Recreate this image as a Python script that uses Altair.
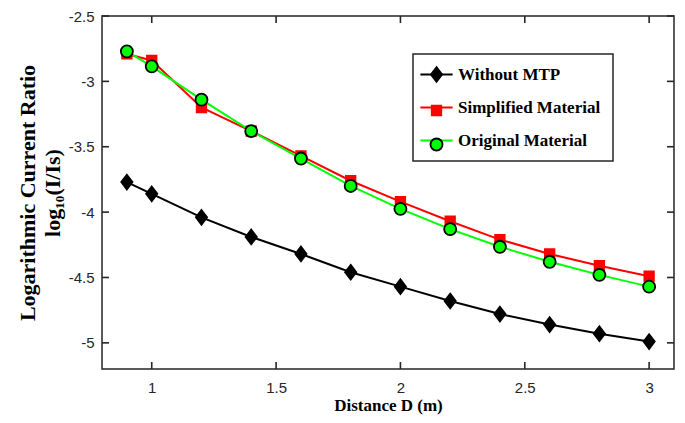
import altair as alt
import pandas as pd

# ---- data ----
D = [0.9, 1.0, 1.2, 1.4, 1.6, 1.8, 2.0, 2.2, 2.4, 2.6, 2.8, 3.0]
without_mtp = [-3.77, -3.86, -4.04, -4.19, -4.32, -4.46, -4.57, -4.68, -4.78, -4.86, -4.93, -4.99]
simplified = [-2.79, -2.84, -3.20, -3.38, -3.57, -3.76, -3.92, -4.07, -4.21, -4.32, -4.41, -4.49]
original = [-2.77, -2.885, -3.14, -3.38, -3.59, -3.80, -3.975, -4.13, -4.265, -4.38, -4.48, -4.57]

series_names = ["Without MTP", "Simplified Material", "Original Material"]
marker_keys = ["Without MTP ", "Simplified Material ", "Original Material "]
line_colors = ["#000000", "#ff0000", "#00ff00"]
marker_fill = ["#000000", "#ff0000", "#00ff00"]
marker_stroke = ["#000000", "#ff0000", "#000000"]
marker_paths = [
    "M0,-1.05L0.8,0L0,1.05L-0.8,0Z",
    "M-0.68,-0.68H0.68V0.68H-0.68Z",
    "M0.86,0A0.86,0.86 0 1,1 -0.86,0A0.86,0.86 0 1,1 0.86,0Z",
]
x_ticks = [1, 1.5, 2, 2.5, 3]
y_ticks = [-5, -4.5, -4, -3.5, -3, -2.5]

rows = []
for name, key, vals in zip(series_names, marker_keys, [without_mtp, simplified, original]):
    for d, v in zip(D, vals):
        rows.append({"D": d, "value": v, "series": name, "mk": key})
df = pd.DataFrame(rows)
xt = pd.DataFrame({"t": x_ticks})
yt = pd.DataFrame({"t": y_ticks})

W, H = 572, 353
AX = "#262626"
TL = 7  # inward tick length

x_scale = alt.Scale(domain=[0.8, 3.1], nice=False, zero=False)
y_scale = alt.Scale(domain=[-5.2, -2.5], nice=False, zero=False)

x_axis = alt.Axis(values=x_ticks, ticks=False, domain=False, grid=False,
                  labelExpr="datum.value + ''",
                  labelFont="Liberation Sans", labelFontSize=15, labelColor=AX,
                  labelPadding=11,
                  title="Distance D (m)", titleFont="Liberation Serif",
                  titleFontWeight="bold", titleFontSize=17, titleColor="#000000",
                  titlePadding=2)
y_axis = alt.Axis(values=y_ticks, ticks=False, domain=False, grid=False,
                  labelExpr="datum.value + ''",
                  labelFont="Liberation Sans", labelFontSize=15, labelColor=AX,
                  labelPadding=8,
                  title=["Logarithmic Current Ratio", "log\u2081\u2080(I/Is)"],
                  titleFont="Liberation Serif", titleFontWeight="bold",
                  titleFontSize=22, titleColor="#000000", titleLineHeight=25,
                  titleAngle=270, titleX=-63, titleY=H / 2,
                  titleAlign="center", titleBaseline="bottom")

legend_common = dict(orient="none", legendX=311, legendY=38, title=None,
                     symbolSize=196, padding=12, rowPadding=15, symbolOffset=3,
                     labelOffset=13, labelFont="Liberation Serif", labelFontWeight="bold",
                     labelFontSize=17, labelColor="#000000", labelLimit=300)
legend_lines = alt.Legend(symbolType="M-2.3,0H2.3", symbolStrokeWidth=2,
                          strokeColor=AX, **legend_common)
legend_marks = alt.Legend(symbolStrokeWidth=1.8, labelExpr="''", **legend_common)

color_enc = alt.Color("series:N", scale=alt.Scale(domain=series_names, range=line_colors),
                      legend=legend_lines)

lines = alt.Chart(df).mark_line(strokeWidth=2).encode(
    x=alt.X("D:Q", scale=x_scale, axis=x_axis),
    y=alt.Y("value:Q", scale=y_scale, axis=y_axis),
    color=color_enc,
)
points = alt.Chart(df).mark_point(filled=True, size=196, strokeWidth=1.8, opacity=1).encode(
    x=alt.X("D:Q", scale=x_scale),
    y=alt.Y("value:Q", scale=y_scale),
    fill=alt.Fill("mk:N", scale=alt.Scale(domain=marker_keys, range=marker_fill), legend=legend_marks),
    stroke=alt.Stroke("mk:N", scale=alt.Scale(domain=marker_keys, range=marker_stroke), legend=legend_marks),
    shape=alt.Shape("mk:N", scale=alt.Scale(domain=marker_keys, range=marker_paths), legend=legend_marks),
)

# inward tick marks on all four sides (positions through the scales)
tick_style = dict(stroke=AX, strokeWidth=1.6, opacity=1)
ticks_bottom = alt.Chart(xt).mark_rule(**tick_style).encode(
    x=alt.X("t:Q", scale=x_scale), y=alt.value(H), y2=alt.value(H - TL))
ticks_top = alt.Chart(xt).mark_rule(**tick_style).encode(
    x=alt.X("t:Q", scale=x_scale), y=alt.value(0), y2=alt.value(TL))
ticks_left = alt.Chart(yt).mark_rule(**tick_style).encode(
    y=alt.Y("t:Q", scale=y_scale), x=alt.value(0), x2=alt.value(TL))
ticks_right = alt.Chart(yt).mark_rule(**tick_style).encode(
    y=alt.Y("t:Q", scale=y_scale), x=alt.value(W), x2=alt.value(W - TL))

chart = alt.layer(lines, points, ticks_bottom, ticks_top, ticks_left, ticks_right).properties(
    width=W, height=H,
    autosize=alt.AutoSizeParams(type="none"),
    padding={"left": 94, "top": 8, "right": 3, "bottom": 46},
    background="#ffffff",
).configure_view(
    stroke=AX, strokeWidth=1.5
).configure_legend(
    strokeWidth=1.5
)

chart.save("out.html", embed_options={"renderer": "svg", "actions": False})
